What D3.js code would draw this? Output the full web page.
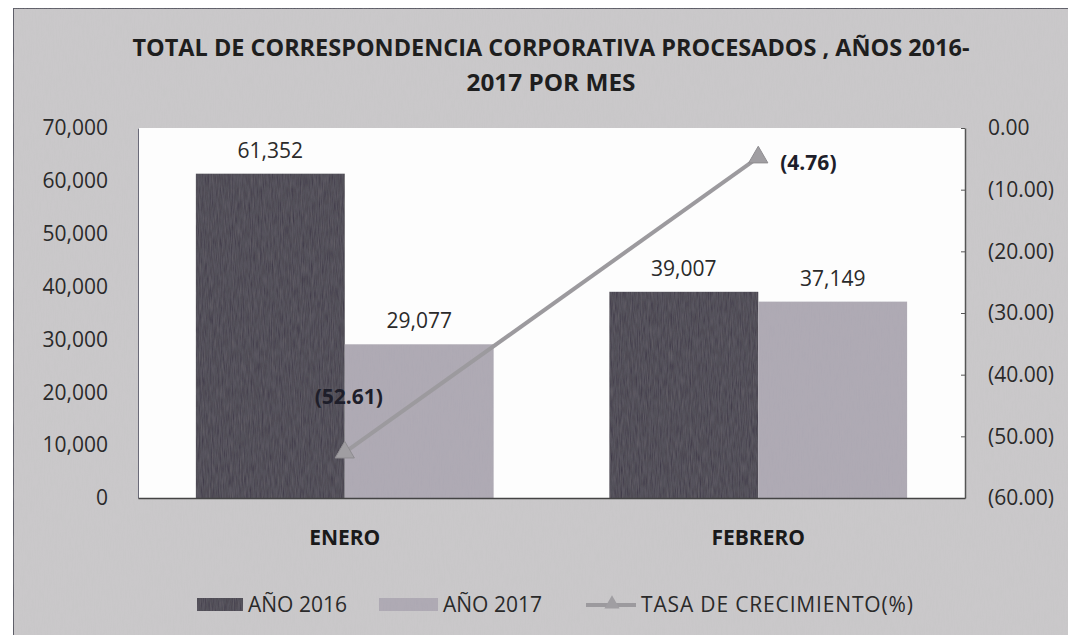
<!DOCTYPE html>
<html><head><meta charset="utf-8">
<script src="https://cdn.jsdelivr.net/npm/d3@7/dist/d3.min.js"></script>
<style>body{margin:0;background:#fff}svg{display:block}</style>
</head><body>
<svg id="c" width="1068" height="635"></svg>
<script>
const categories = ["ENERO", "FEBRERO"];
const seriesNames = ["AÑO 2016", "AÑO 2017"];
const values2016 = [61352, 39007];
const values2017 = [29077, 37149];
const growthRate = [-52.61, -4.76];
const leftTicks = [0, 10000, 20000, 30000, 40000, 50000, 60000, 70000];
const rightTicks = [0, -10, -20, -30, -40, -50, -60];
const lineName = "TASA DE CRECIMIENTO(%)";
const titleLines = ["TOTAL DE CORRESPONDENCIA CORPORATIVA PROCESADOS , AÑOS 2016-", "2017 POR MES"];

const svg = d3.select("#c");
const W = 1068, H = 635;
const m = {l: 138, r: 965, t: 128, b: 498};
const font = "'Open Sans', sans-serif";
const txt = "#2a2a2a";

const defs = svg.append("defs");
const f = defs.append("filter").attr("id","noise").attr("x",0).attr("y",0).attr("width","100%").attr("height","100%");
f.append("feTurbulence").attr("type","fractalNoise").attr("baseFrequency","0.9 0.08").attr("numOctaves",2).attr("seed",3).attr("result","n");
f.append("feColorMatrix").attr("type","matrix").attr("values","0 0 0 0 0.5  0 0 0 0 0.5  0 0 0 0 0.5  0 0 0 0.18 0").attr("result","n2");
f.append("feComposite").attr("in","n2").attr("in2","SourceGraphic").attr("operator","in").attr("result","n3");
f.append("feMerge").call(s=>{s.append("feMergeNode").attr("in","SourceGraphic");s.append("feMergeNode").attr("in","n3");});

svg.append("rect").attr("width",W).attr("height",H).attr("fill","#ffffff");
svg.append("rect").attr("x",13).attr("y",8).attr("width",W).attr("height",H)
  .attr("fill","#cbc9cb").attr("stroke","#555560").attr("stroke-width",2).attr("filter","url(#noise)");

// title
const titleW = [837, 169];
svg.append("g").selectAll("text").data(titleLines).join("text")
  .attr("x",551).attr("y",(d,i)=>56+i*35).attr("text-anchor","middle")
  .attr("font-family",font).attr("font-weight","bold").attr("font-size",23)
  .attr("textLength",(d,i)=>titleW[i]).attr("lengthAdjust","spacingAndGlyphs")
  .attr("fill","#1e1e1e").text(d=>d);

// plot area
svg.append("rect").attr("x",m.l).attr("y",m.t).attr("width",m.r-m.l).attr("height",m.b-m.t).attr("fill","#fdfdfd");

const x0 = d3.scaleBand().domain(categories).range([m.l,m.r]).paddingInner(0.28).paddingOuter(0.14);
const x1 = d3.scaleBand().domain(seriesNames).range([0,x0.bandwidth()]);
const y = d3.scaleLinear().domain([0,70000]).range([m.b,m.t]);
const y2 = d3.scaleLinear().domain([-60,0]).range([m.b,m.t]);

const colors = {"AÑO 2016":"#3d3846","AÑO 2017":"#ada8b3"};
const rows = categories.map((c,i)=>({c, vals:[{s:seriesNames[0],v:values2016[i]},{s:seriesNames[1],v:values2017[i]}]}));

const g = svg.append("g");
const grp = g.selectAll("g").data(rows).join("g").attr("transform",d=>`translate(${x0(d.c)},0)`);
grp.selectAll("rect").data(d=>d.vals).join("rect")
  .attr("x",d=>x1(d.s)).attr("width",x1.bandwidth())
  .attr("y",d=>y(d.v)).attr("height",d=>y(0)-y(d.v))
  .attr("fill",d=>colors[d.s]).attr("filter","url(#noise)");
grp.selectAll("text").data(d=>d.vals).join("text")
  .attr("x",d=>x1(d.s)+x1.bandwidth()/2).attr("y",d=>y(d.v)-16)
  .attr("text-anchor","middle").attr("font-family",font).attr("font-size",21).attr("fill",txt)
  .text(d=>d3.format(",")(d.v));

// axes
const fmtR = v => v===0 ? "0.00" : "(" + Math.abs(v).toFixed(2) + ")";
const ax = svg.append("g").attr("transform",`translate(${m.l},0)`)
  .call(d3.axisLeft(y).tickValues(leftTicks).tickFormat(d3.format(",")).tickSize(0).tickPadding(30));
ax.select(".domain").attr("stroke","#6a6a78").attr("stroke-width",1);
ax.selectAll("text").attr("font-family",font).attr("font-size",21).attr("fill",txt);

const ar = svg.append("g").attr("transform",`translate(${m.r},0)`)
  .call(d3.axisRight(y2).tickValues(rightTicks).tickFormat(fmtR).tickSizeInner(-4).tickSizeOuter(0).tickPadding(23));
ar.select(".domain").attr("stroke","#555").attr("stroke-width",1.5);
ar.selectAll("line").attr("stroke","#555");
ar.selectAll("text").attr("font-family",font).attr("font-size",21).attr("fill",txt);

const axb = svg.append("g").attr("transform",`translate(0,${m.b})`)
  .call(d3.axisBottom(x0).tickSize(0).tickPadding(32));
axb.select(".domain").attr("stroke","#444").attr("stroke-width",1.5);
axb.selectAll("text").attr("font-family",font).attr("font-weight","bold").attr("font-size",21).attr("fill","#1a1a1a");

// line
const pts = categories.map((c,i)=>({c, v:growthRate[i], x:x0(c)+x0.bandwidth()/2, y:y2(growthRate[i])}));
svg.append("path").datum(pts).attr("d",d3.line().x(d=>d.x).y(d=>d.y))
  .attr("fill","none").attr("stroke","#9c9a9e").attr("stroke-width",4);
const tri = d3.symbol().type(d3.symbolTriangle).size(160);
svg.selectAll(".mk").data(pts).join("path").attr("class","mk").attr("d",tri)
  .attr("transform",d=>`translate(${d.x},${d.y})`).attr("fill","#a09ea2").attr("stroke","#8e8c90");
svg.selectAll(".lb").data(pts).join("text").attr("class","lb")
  .attr("x",(d,i)=>i===0? d.x+4 : d.x+22).attr("y",(d,i)=>i===0? d.y-48 : d.y+13)
  .attr("text-anchor",(d,i)=>i===0?"middle":"start")
  .attr("font-family",font).attr("font-weight","bold").attr("font-size",21).attr("fill","#1e1e2a")
  .text(d=>"(" + Math.abs(d.v).toFixed(2) + ")");

// legend
const lg = svg.append("g").attr("font-family",font).attr("font-size",21).attr("fill",txt);
const sw = [[197,46],[379,59]];
seriesNames.forEach((s,i)=>{
  lg.append("rect").attr("x",sw[i][0]).attr("y",598).attr("width",sw[i][1]).attr("height",13).attr("fill",colors[s]).attr("filter","url(#noise)");
  lg.append("text").attr("x",sw[i][0]+sw[i][1]+5).attr("y",612).text(s);
});
lg.append("line").attr("x1",586).attr("x2",636).attr("y1",605).attr("y2",605).attr("stroke","#9c9a9e").attr("stroke-width",4);
lg.append("path").attr("d",d3.symbol().type(d3.symbolTriangle).size(100)).attr("transform","translate(612,604)").attr("fill","#a09ea2");
lg.append("text").attr("x",641).attr("y",612).attr("textLength",272).attr("lengthAdjust","spacing").text(lineName);
</script>
</body></html>
